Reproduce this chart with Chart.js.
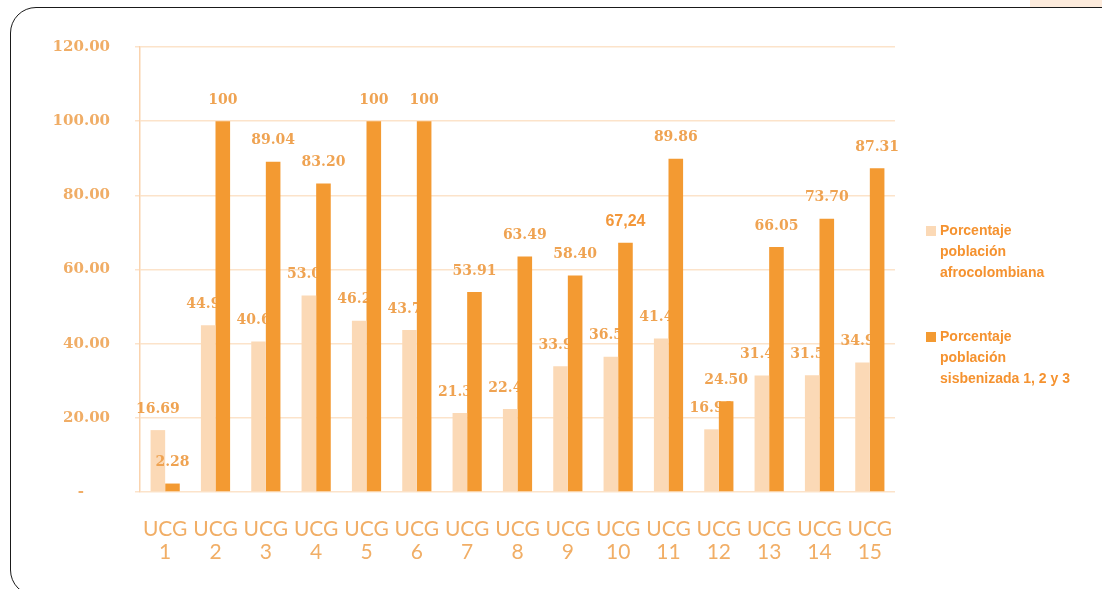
<!DOCTYPE html>
<html><head><meta charset="utf-8">
<script src="https://cdn.jsdelivr.net/npm/chart.js@4.4.1/dist/chart.umd.min.js"></script>
<style>
html,body{margin:0;padding:0;background:#fff;}
#wrap{position:relative;width:1102px;height:589px;overflow:hidden;background:#fff;}
#frame{position:absolute;left:10px;top:7px;width:1200px;height:589px;border:1.6px solid #1a1a1a;border-radius:26px;box-sizing:border-box;}
#peach{position:absolute;left:1030px;top:0;width:72px;height:7px;background:#fdebdc;}
canvas{position:absolute;left:0;top:0;}
</style></head><body>
<div id="wrap"><div id="peach"></div><div id="frame"></div><canvas id="c" width="1102" height="589"></canvas></div>
<script>
const categories = ['UCG 1','UCG 2','UCG 3','UCG 4','UCG 5','UCG 6','UCG 7','UCG 8','UCG 9','UCG 10','UCG 11','UCG 12','UCG 13','UCG 14','UCG 15'];
const seriesNames = [['Porcentaje','población','afrocolombiana'],['Porcentaje','población','sisbenizada 1, 2 y 3']];
const afroValues = [16.69, 44.95, 40.60, 53.00, 46.20, 43.70, 21.30, 22.40, 33.90, 36.50, 41.40, 16.90, 31.40, 31.50, 34.90];
const afroLabels = ['16.69','44.95','40.60','53.00','46.20','43.70','21.30','22.40','33.90','36.50','41.40','16.90','31.40','31.50','34.90'];
const sisbenValues = [2.28, 100, 89.04, 83.20, 100, 100, 53.91, 63.49, 58.40, 67.24, 89.86, 24.50, 66.05, 73.70, 87.31];
const sisbenLabels = ['2.28','100','89.04','83.20','100','100','53.91','63.49','58.40','67,24','89.86','24.50','66.05','73.70','87.31'];
const yTicks = [0, 20, 40, 60, 80, 100, 120];

const LIGHT = '#FBD9B6';
const DARK = '#F39A32';

function drawLabels(chart, dsIndex, texts) {
  const ctx = chart.ctx;
  const meta = chart.getDatasetMeta(dsIndex);
  ctx.save();
  ctx.textAlign = 'center';
  ctx.textBaseline = 'middle';
  meta.data.forEach((bar, i) => {
    const t = texts[i];
    if (t.indexOf(',') >= 0) {
      ctx.font = 'bold 16px "Liberation Sans", Arial, sans-serif';
      ctx.fillStyle = '#F3973A';
    } else {
      ctx.font = 'bold 14px "DejaVu Serif", serif';
      ctx.fillStyle = '#EFA352';
    }
    ctx.fillText(t, bar.x, bar.y - 21);
  });
  ctx.restore();
}

const labelPlugin = {
  id: 'barLabels',
  beforeDatasetsDraw(chart) { drawLabels(chart, 0, afroLabels); },
  afterDatasetsDraw(chart) { drawLabels(chart, 1, sisbenLabels); }
};

const legendPlugin = {
  id: 'sideLegend',
  afterDraw(chart) {
    const ctx = chart.ctx;
    const colors = [LIGHT, DARK];
    const tops = [231, 337];
    ctx.save();
    ctx.font = 'bold 14px "Liberation Sans", Arial, sans-serif';
    ctx.textBaseline = 'middle';
    ctx.textAlign = 'left';
    seriesNames.forEach((lines, k) => {
      ctx.fillStyle = colors[k];
      ctx.fillRect(926, tops[k] - 5, 10, 10);
      ctx.fillStyle = '#F5922F';
      lines.forEach((ln, j) => ctx.fillText(ln, 940, tops[k] + j * 21));
    });
    ctx.restore();
  }
};

new Chart(document.getElementById('c'), {
  type: 'bar',
  data: {
    labels: categories.map(c => c.split(' ')),
    datasets: [
      { label: seriesNames[0].join(' '), data: afroValues, backgroundColor: LIGHT, categoryPercentage: 0.58, barPercentage: 1.0 },
      { label: seriesNames[1].join(' '), data: sisbenValues, backgroundColor: DARK, categoryPercentage: 0.58, barPercentage: 1.0 }
    ]
  },
  options: {
    responsive: false,
    animation: false,
    layout: { padding: { left: 0, top: 47, right: 207, bottom: 0 } },
    plugins: { legend: { display: false }, tooltip: { enabled: false } },
    scales: {
      x: {
        grid: { display: false, drawTicks: false },
        border: { display: false },
        ticks: { font: { family: 'Lato', size: 21, lineHeight: 1.1 }, color: '#F1AE66', padding: 26, maxRotation: 0, autoSkip: false },
        afterFit(s) { s.height = 97; }
      },
      y: {
        min: 0, max: 120,
        afterBuildTicks(s) { s.ticks = yTicks.map(v => ({ value: v })); },
        ticks: {
          callback: v => v === 0 ? '-     ' : v.toFixed(2),
          font: { family: 'DejaVu Serif', size: 15, weight: 'bold' },
          color: '#F0AD66',
          padding: 25
        },
        grid: { color: '#FCE3CA', lineWidth: 1.5, tickLength: 5 },
        border: { color: '#FAD3AE', width: 1.5 },
        afterFit(s) { s.width = 140; }
      }
    }
  },
  plugins: [labelPlugin, legendPlugin]
});
</script>
</body></html>
